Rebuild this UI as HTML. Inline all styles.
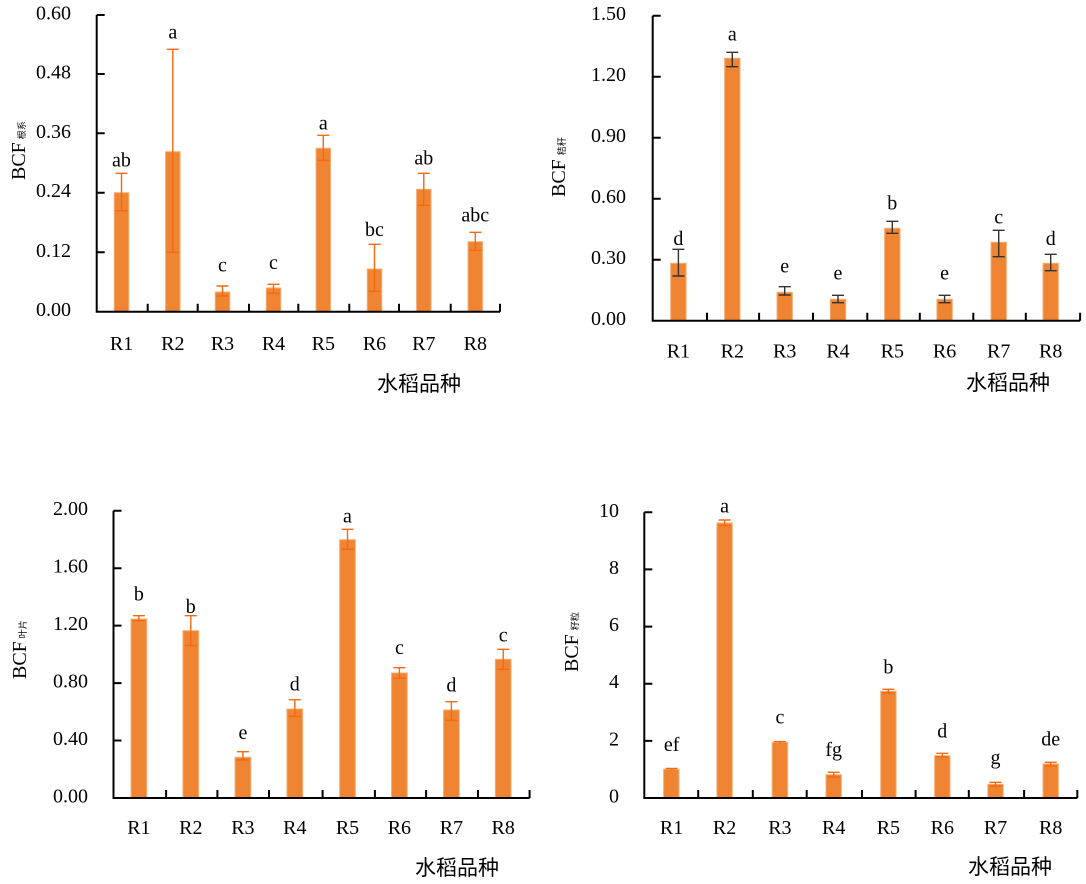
<!DOCTYPE html>
<html>
<head>
<meta charset="utf-8">
<style>
  html, body { margin: 0; padding: 0; background: #ffffff; }
  svg { display: block; }
  .t { font-family: "Liberation Serif", "Times New Roman", serif; font-size: 20px; fill: #000; }
  .cj { font-family: "Liberation Sans", "Noto Sans CJK SC", sans-serif; font-size: 21px; fill: #000; }
  .sub { font-family: "Liberation Sans", "Noto Sans CJK SC", sans-serif; font-size: 9px; fill: #000; }
  .ax { stroke: #000; stroke-width: 2; fill: none; }
  .bar { fill: #ef8532; stroke: #f5ad74; stroke-width: 1; }
  .eo { stroke: #f26a12; stroke-width: 1.4; fill: none; }
  .ek { stroke: #333; stroke-width: 1.4; fill: none; }
</style>
</head>
<body>
<svg width="1086" height="884" viewBox="0 0 1086 884" xmlns="http://www.w3.org/2000/svg">
<rect x="0" y="0" width="1086" height="884" fill="#fff"/>

<!-- ================= Panel 1 ================= -->
<g>
  <!-- bars -->
  <rect class="bar" x="114.25" y="192.7" width="14.5" height="119"/>
  <rect class="bar" x="165.55" y="151.7" width="14.5" height="160"/>
  <rect class="bar" x="215.25" y="292" width="14.5" height="19.7"/>
  <rect class="bar" x="266.25" y="288" width="14.5" height="23.7"/>
  <rect class="bar" x="316.05" y="148.3" width="14.5" height="163.4"/>
  <rect class="bar" x="367.25" y="269" width="14.5" height="42.7"/>
  <rect class="bar" x="416.55" y="189.3" width="14.5" height="122.4"/>
  <rect class="bar" x="468.05" y="241.7" width="14.5" height="70"/>
  <!-- error bars -->
  <path class="eo" d="M121.5 173.3V210.7M115.5 173.3H127.5M115.5 210.7H127.5"/>
  <path class="eo" d="M172.8 49.3V252.3M166.8 49.3H178.8M166.8 252.3H178.8"/>
  <path class="eo" d="M222.5 286V296M216.5 286H228.5M216.5 296H228.5"/>
  <path class="eo" d="M273.5 284.3V293.3M267.5 284.3H279.5M267.5 293.3H279.5"/>
  <path class="eo" d="M323.3 135.3V160.3M317.3 135.3H329.3M317.3 160.3H329.3"/>
  <path class="eo" d="M374.5 244.3V291.3M368.5 244.3H380.5M368.5 291.3H380.5"/>
  <path class="eo" d="M423.8 173.3V205.3M417.8 173.3H429.8M417.8 205.3H429.8"/>
  <path class="eo" d="M475.3 232.3V250.3M469.3 232.3H481.3M469.3 250.3H481.3"/>
  <!-- axes -->
  <path class="ax" d="M96.7 15V311.7H500"/>
  <path class="ax" d="M96.7 15H104.7M96.7 74H104.7M96.7 133.3H104.7M96.7 192.7H104.7M96.7 252.3H104.7"/>
  <path class="ax" d="M147.7 311.7V303.7M197.7 311.7V303.7M249 311.7V303.7M298.3 311.7V303.7M349.3 311.7V303.7M399 311.7V303.7M450.7 311.7V303.7M500 311.7V303.7"/>
  <!-- y tick labels -->
  <g class="t" text-anchor="end">
    <text x="71" y="19.5">0.60</text>
    <text x="71" y="78.5">0.48</text>
    <text x="71" y="137.8">0.36</text>
    <text x="71" y="197.2">0.24</text>
    <text x="71" y="256.8">0.12</text>
    <text x="71" y="316.2">0.00</text>
  </g>
  <!-- category labels -->
  <g class="t" text-anchor="middle">
    <text x="121.5" y="350">R1</text>
    <text x="172.8" y="350">R2</text>
    <text x="222.5" y="350">R3</text>
    <text x="273.5" y="350">R4</text>
    <text x="323.3" y="350">R5</text>
    <text x="374.5" y="350">R6</text>
    <text x="423.8" y="350">R7</text>
    <text x="475.3" y="350">R8</text>
  </g>
  <!-- significance letters -->
  <g class="t" text-anchor="middle">
    <text x="121.5" y="166.7">ab</text>
    <text x="172.8" y="38.3">a</text>
    <text x="222.5" y="271.7">c</text>
    <text x="273.5" y="269">c</text>
    <text x="323.3" y="129.3">a</text>
    <text x="374.5" y="236">bc</text>
    <text x="423.8" y="164.3">ab</text>
    <text x="475.3" y="221.7">abc</text>
  </g>
  <!-- y label -->
  <text transform="translate(25,180) rotate(-90)"><tspan class="t">BCF</tspan><tspan class="sub" dx="3">根系</tspan></text>
  <!-- x label -->
  <text class="cj" x="377" y="391">水稻品种</text>
</g>

<!-- ================= Panel 2 ================= -->
<g>
  <rect class="bar" x="670.7" y="263.3" width="15.4" height="57.4"/>
  <rect class="bar" x="724.6" y="58.3" width="15.4" height="262.4"/>
  <rect class="bar" x="777" y="292.3" width="15.4" height="28.4"/>
  <rect class="bar" x="830.3" y="299.3" width="15.4" height="21.4"/>
  <rect class="bar" x="884.6" y="228.3" width="15.4" height="92.4"/>
  <rect class="bar" x="936.9" y="299.3" width="15.4" height="21.4"/>
  <rect class="bar" x="991" y="242.3" width="15.4" height="78.4"/>
  <rect class="bar" x="1043" y="263.3" width="15.4" height="57.4"/>
  <path class="ek" d="M678.4 249.3V276M672.4 249.3H684.4M672.4 276H684.4"/>
  <path class="ek" d="M732.3 52.3V66.7M726.3 52.3H738.3M726.3 66.7H738.3"/>
  <path class="ek" d="M784.7 286.7V295M778.7 286.7H790.7M778.7 295H790.7"/>
  <path class="ek" d="M838 295.3V302.7M832 295.3H844M832 302.7H844"/>
  <path class="ek" d="M892.3 221.3V233.3M886.3 221.3H898.3M886.3 233.3H898.3"/>
  <path class="ek" d="M944.6 295.3V302.7M938.6 295.3H950.6M938.6 302.7H950.6"/>
  <path class="ek" d="M998.7 230.3V256.7M992.7 230.3H1004.7M992.7 256.7H1004.7"/>
  <path class="ek" d="M1050.7 254.3V270.7M1044.7 254.3H1056.7M1044.7 270.7H1056.7"/>
  <path class="ax" d="M652.7 15.7V320.7H1080.1"/>
  <path class="ax" d="M652.7 15.7H660.7M652.7 76.7H660.7M652.7 137.7H660.7M652.7 198.7H660.7M652.7 259.7H660.7"/>
  <path class="ax" d="M707 320.7V312.7M759.1 320.7V312.7M813 320.7V312.7M867.3 320.7V312.7M919.8 320.7V312.7M973.3 320.7V312.7M1025.8 320.7V312.7M1080.1 320.7V312.7"/>
  <g class="t" text-anchor="end">
    <text x="626" y="20.2">1.50</text>
    <text x="626" y="81.2">1.20</text>
    <text x="626" y="142.2">0.90</text>
    <text x="626" y="203.2">0.60</text>
    <text x="626" y="264.2">0.30</text>
    <text x="626" y="325.2">0.00</text>
  </g>
  <g class="t" text-anchor="middle">
    <text x="678.4" y="357.7">R1</text>
    <text x="732.3" y="357.7">R2</text>
    <text x="784.7" y="357.7">R3</text>
    <text x="838" y="357.7">R4</text>
    <text x="892.3" y="357.7">R5</text>
    <text x="944.6" y="357.7">R6</text>
    <text x="998.7" y="357.7">R7</text>
    <text x="1050.7" y="357.7">R8</text>
  </g>
  <g class="t" text-anchor="middle">
    <text x="678.4" y="245">d</text>
    <text x="732.3" y="40.7">a</text>
    <text x="784.7" y="272.7">e</text>
    <text x="838" y="279.3">e</text>
    <text x="892.3" y="209.3">b</text>
    <text x="944.6" y="279.3">e</text>
    <text x="998.7" y="223.3">c</text>
    <text x="1050.7" y="245">d</text>
  </g>
  <text transform="translate(565,197) rotate(-90)"><tspan class="t">BCF</tspan><tspan class="sub" dx="4">秸秆</tspan></text>
  <text class="cj" x="966" y="390">水稻品种</text>
</g>

<!-- ================= Panel 3 ================= -->
<g>
  <rect class="bar" x="131.05" y="619" width="15.7" height="179"/>
  <rect class="bar" x="182.95" y="630.7" width="15.7" height="167.3"/>
  <rect class="bar" x="235.05" y="757.3" width="15.7" height="40.7"/>
  <rect class="bar" x="286.95" y="709" width="15.7" height="89"/>
  <rect class="bar" x="339.65" y="539.7" width="15.7" height="258.3"/>
  <rect class="bar" x="391.55" y="673" width="15.7" height="125"/>
  <rect class="bar" x="443.55" y="710" width="15.7" height="88"/>
  <rect class="bar" x="495.35" y="659.3" width="15.7" height="138.7"/>
  <path class="eo" d="M138.9 615.7V620.7M132.9 615.7H144.9M132.9 620.7H144.9"/>
  <path class="eo" d="M190.8 615.7V645.7M184.8 615.7H196.8M184.8 645.7H196.8"/>
  <path class="eo" d="M242.9 751.7V760M236.9 751.7H248.9M236.9 760H248.9"/>
  <path class="eo" d="M294.8 699.7V716.3M288.8 699.7H300.8M288.8 716.3H300.8"/>
  <path class="eo" d="M347.5 529.3V549.3M341.5 529.3H353.5M341.5 549.3H353.5"/>
  <path class="eo" d="M399.4 667.7V678.3M393.4 667.7H405.4M393.4 678.3H405.4"/>
  <path class="eo" d="M451.4 701.7V720.3M445.4 701.7H457.4M445.4 720.3H457.4"/>
  <path class="eo" d="M503.2 649.3V669.3M497.2 649.3H509.2M497.2 669.3H509.2"/>
  <path class="ax" d="M113.5 510.7V798H529.6"/>
  <path class="ax" d="M113.5 510.7H121.5M113.5 568.2H121.5M113.5 625.6H121.5M113.5 683.1H121.5M113.5 740.5H121.5"/>
  <path class="ax" d="M166.1 798V790M217.4 798V790M269 798V790M322.6 798V790M374.9 798V790M426.1 798V790M478 798V790M529.6 798V790"/>
  <g class="t" text-anchor="end">
    <text x="88" y="515.2">2.00</text>
    <text x="88" y="572.7">1.60</text>
    <text x="88" y="630.1">1.20</text>
    <text x="88" y="687.6">0.80</text>
    <text x="88" y="745">0.40</text>
    <text x="88" y="802.5">0.00</text>
  </g>
  <g class="t" text-anchor="middle">
    <text x="138.9" y="834">R1</text>
    <text x="190.8" y="834">R2</text>
    <text x="242.9" y="834">R3</text>
    <text x="294.8" y="834">R4</text>
    <text x="347.5" y="834">R5</text>
    <text x="399.4" y="834">R6</text>
    <text x="451.4" y="834">R7</text>
    <text x="503.2" y="834">R8</text>
  </g>
  <g class="t" text-anchor="middle">
    <text x="138.9" y="600.7">b</text>
    <text x="190.8" y="613">b</text>
    <text x="242.9" y="739">e</text>
    <text x="294.8" y="690.7">d</text>
    <text x="347.5" y="522.3">a</text>
    <text x="399.4" y="654">c</text>
    <text x="451.4" y="691.7">d</text>
    <text x="503.2" y="641.3">c</text>
  </g>
  <text transform="translate(26,679) rotate(-90)"><tspan class="t">BCF</tspan><tspan class="sub" dx="3">叶片</tspan></text>
  <text class="cj" x="415" y="875">水稻品种</text>
</g>

<!-- ================= Panel 4 ================= -->
<g>
  <rect class="bar" x="663.6" y="769.3" width="15.4" height="28.7"/>
  <rect class="bar" x="716.9" y="523" width="15.4" height="275"/>
  <rect class="bar" x="772.2" y="742.3" width="15.4" height="55.7"/>
  <rect class="bar" x="826" y="774.7" width="15.4" height="23.3"/>
  <rect class="bar" x="880.7" y="691.3" width="15.4" height="106.7"/>
  <rect class="bar" x="934.6" y="755.7" width="15.4" height="42.3"/>
  <rect class="bar" x="987.8" y="784.3" width="15.4" height="13.7"/>
  <rect class="bar" x="1043" y="764" width="15.4" height="34"/>
  <path class="eo" d="M671.6 768.5V770.3M665.6 768.5H677.6"/>
  <path class="eo" d="M724.6 520V525.7M718.6 520H730.6M718.6 525.7H730.6"/>
  <path class="eo" d="M779.9 741.6V743.3M773.9 741.6H785.9"/>
  <path class="eo" d="M833.7 772.3V777M827.7 772.3H839.7M827.7 777H839.7"/>
  <path class="eo" d="M888.4 689.3V693M882.4 689.3H894.4M882.4 693H894.4"/>
  <path class="eo" d="M942.3 753.3V757M936.3 753.3H948.3M936.3 757H948.3"/>
  <path class="eo" d="M995.5 782.3V786M989.5 782.3H1001.5M989.5 786H1001.5"/>
  <path class="eo" d="M1050.7 762.3V766M1044.7 762.3H1056.7M1044.7 766H1056.7"/>
  <path class="ax" d="M644.3 512.3V798H1077.3"/>
  <path class="ax" d="M644.3 512.3H652.3M644.3 569.4H652.3M644.3 626.6H652.3M644.3 683.7H652.3M644.3 740.9H652.3"/>
  <path class="ax" d="M698.2 798V790M752.8 798V790M806.7 798V790M862 798V790M915.6 798V790M968.8 798V790M1024.1 798V790M1077.3 798V790"/>
  <g class="t" text-anchor="end">
    <text x="619" y="516.8">10</text>
    <text x="619" y="573.9">8</text>
    <text x="619" y="631.1">6</text>
    <text x="619" y="688.2">4</text>
    <text x="619" y="745.4">2</text>
    <text x="619" y="802.5">0</text>
  </g>
  <g class="t" text-anchor="middle">
    <text x="671.6" y="834">R1</text>
    <text x="724.6" y="834">R2</text>
    <text x="779.9" y="834">R3</text>
    <text x="833.7" y="834">R4</text>
    <text x="888.4" y="834">R5</text>
    <text x="942.3" y="834">R6</text>
    <text x="995.5" y="834">R7</text>
    <text x="1050.7" y="834">R8</text>
  </g>
  <g class="t" text-anchor="middle">
    <text x="671.6" y="751.2">ef</text>
    <text x="724.6" y="512.3">a</text>
    <text x="779.9" y="723.3">c</text>
    <text x="833.7" y="756.2">fg</text>
    <text x="888.4" y="673.3">b</text>
    <text x="942.3" y="737.3">d</text>
    <text x="995.5" y="764">g</text>
    <text x="1050.7" y="745.7">de</text>
  </g>
  <text transform="translate(578,672) rotate(-90)"><tspan class="t">BCF</tspan><tspan class="sub" dx="4">籽粒</tspan></text>
  <text class="cj" x="968" y="874">水稻品种</text>
</g>
</svg>
</body>
</html>
